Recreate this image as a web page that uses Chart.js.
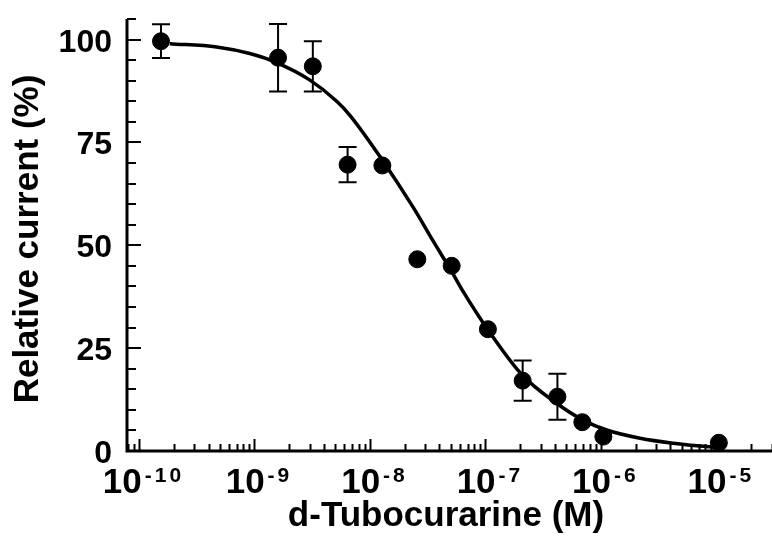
<!DOCTYPE html>
<html>
<head>
<meta charset="utf-8">
<script src="https://cdn.jsdelivr.net/npm/chart.js@4.4.0/dist/chart.umd.min.js"></script>
<style>
  html, body { margin: 0; padding: 0; background: #fff; }
  #wrap { width: 772px; height: 543px; position: relative; }
</style>
</head>
<body>
<div id="wrap"><canvas id="chart"></canvas></div>
<script>
// measured points (concentration in M, relative current in %, +/- error)
const concentrations = [1.55e-10, 1.6e-9, 3.2e-9, 6.4e-9, 1.28e-8, 2.57e-8, 5.1e-8, 1.05e-7, 2.1e-7, 4.2e-7, 6.9e-7, 1.05e-6, 1.05e-5];
const currents = [99.6, 95.6, 93.5, 69.6, 69.4, 46.6, 45.0, 29.6, 17.1, 13.2, 7.0, 3.5, 2.0];
const errors = [4.1, 8.2, 6.1, 4.3, 0, 0, 0, 0, 4.9, 5.6, 0, 0, 0];

// fitted curve
const fitConc = [1.85e-10, 4.7e-10, 9.1e-10, 1.55e-9, 3.0e-9, 5.15e-9, 6.7e-9, 1.26e-8, 2.37e-8, 3.53e-8, 5.1e-8, 6.4e-8, 1.06e-7, 2.06e-7, 4.13e-7, 7.0e-7, 1.12e-6, 2.18e-6, 4.2e-6, 8.2e-6, 1.0e-5];
const fitCurrent = [99.0, 98.2, 96.6, 94.4, 90.2, 85.0, 81.6, 71.0, 59.2, 51.0, 43.6, 38.8, 29.3, 18.6, 11.6, 7.5, 5.1, 3.1, 1.9, 1.1, 0.95];

// axis ticks
const xExponents = [-10, -9, -8, -7, -6, -5];
const yTicks = [0, 25, 50, 75, 100];

const FONT = '"Liberation Sans", Arial, sans-serif';

const errorBars = {
    id: 'errorBars',
    beforeDatasetsDraw(chart) {
        const { ctx, scales: { x, y } } = chart;
        ctx.save();
        ctx.strokeStyle = '#000';
        ctx.lineWidth = 2;
        errors.forEach((e, i) => {
            if (!e) return;
            const px = x.getPixelForValue(concentrations[i]);
            const top = y.getPixelForValue(currents[i] + e);
            const bot = y.getPixelForValue(currents[i] - e);
            ctx.beginPath();
            ctx.moveTo(px, top); ctx.lineTo(px, bot);
            ctx.moveTo(px - 9, top); ctx.lineTo(px + 9, top);
            ctx.moveTo(px - 9, bot); ctx.lineTo(px + 9, bot);
            ctx.stroke();
        });
        ctx.restore();
    }
};

const axes = {
    id: 'axes',
    afterDraw(chart) {
        const { ctx, chartArea: a, scales: { x, y } } = chart;
        ctx.save();
        ctx.strokeStyle = '#000';
        ctx.fillStyle = '#000';

        // axis lines
        ctx.lineWidth = 3;
        ctx.beginPath();
        ctx.moveTo(a.left, a.top);
        ctx.lineTo(a.left, a.bottom);
        ctx.lineTo(a.right, a.bottom);
        ctx.stroke();

        // y ticks, inward
        ctx.lineWidth = 2;
        ctx.beginPath();
        for (let v = 0; v <= y.max + 0.01; v += 5) {
            const py = Math.round(y.getPixelForValue(v));
            const len = v % 25 === 0 ? 14 : 9;
            ctx.moveTo(a.left, py); ctx.lineTo(a.left + len, py);
        }
        ctx.stroke();

        // x ticks, inward (log minors)
        ctx.beginPath();
        for (let e = -11; e <= -5; e++) {
            for (let m = 1; m <= 9; m++) {
                const v = m * Math.pow(10, e);
                if (v < x.min || v > x.max) continue;
                const px = Math.round(x.getPixelForValue(v)) + 0.5;
                const len = m === 1 ? 12 : 7;
                ctx.moveTo(px, a.bottom); ctx.lineTo(px, a.bottom - len);
            }
        }
        ctx.stroke();

        // y tick labels
        ctx.font = 'bold 32px ' + FONT;
        ctx.textAlign = 'right';
        ctx.textBaseline = 'alphabetic';
        yTicks.forEach(v => {
            ctx.fillText(String(v), 112, y.getPixelForValue(v) + 12);
        });

        // x tick labels: 10 with spaced superscript exponent
        xExponents.forEach(e => {
            const px = x.getPixelForValue(Math.pow(10, e));
            ctx.font = 'bold 35px ' + FONT;
            const base = '10';
            const wBase = ctx.measureText(base).width;
            const sup = ['-'].concat(String(-e).split(''));
            ctx.font = 'bold 21px ' + FONT;
            const widths = sup.map(c => ctx.measureText(c).width);
            const gap = 3;
            const wSup = widths.reduce((s, w) => s + w, 0) + gap * sup.length;
            let left = px - (wBase + wSup) / 2 + 3;
            ctx.textAlign = 'left';
            ctx.font = 'bold 35px ' + FONT;
            ctx.fillText(base, left, 493);
            left += wBase + gap;
            ctx.font = 'bold 21px ' + FONT;
            sup.forEach((c, i) => {
                ctx.fillText(c, left, 482);
                left += widths[i] + gap;
            });
        });

        // axis titles
        ctx.font = 'bold 35px ' + FONT;
        ctx.textAlign = 'center';
        ctx.fillText('d-Tubocurarine (M)', 446, 526);

        ctx.translate(28, 239);
        ctx.rotate(-Math.PI / 2);
        ctx.textBaseline = 'middle';
        ctx.fillText('Relative current (%)', 0, 0);
        ctx.restore();
    }
};

new Chart(document.getElementById('chart'), {
    type: 'scatter',
    data: {
        datasets: [
            {
                label: 'Fit',
                data: fitConc.map((c, i) => ({ x: c, y: fitCurrent[i] })),
                showLine: true,
                borderColor: '#000',
                borderWidth: 3.5,
                pointRadius: 0,
                cubicInterpolationMode: 'monotone',
                clip: false
            },
            {
                label: 'd-Tubocurarine',
                data: concentrations.map((c, i) => ({ x: c, y: currents[i] })),
                backgroundColor: '#000',
                borderColor: '#000',
                pointRadius: 8.5,
                pointHoverRadius: 8.5,
                clip: false
            }
        ]
    },
    options: {
        responsive: true,
        maintainAspectRatio: false,
        animation: false,
        events: [],
        layout: { autoPadding: false, padding: { top: 19, right: 0, left: 0, bottom: 0 } },
        plugins: {
            legend: { display: false },
            tooltip: { enabled: false }
        },
        scales: {
            x: {
                type: 'logarithmic',
                min: 7.87e-11,
                max: 3.03e-5,
                grid: { display: false },
                border: { display: false },
                ticks: { display: false },
                afterFit: s => { s.height = 92; }
            },
            y: {
                min: 0,
                max: 105,
                grid: { display: false },
                border: { display: false },
                ticks: { display: false },
                afterFit: s => { s.width = 127; }
            }
        }
    },
    plugins: [errorBars, axes]
});
</script>
</body>
</html>
